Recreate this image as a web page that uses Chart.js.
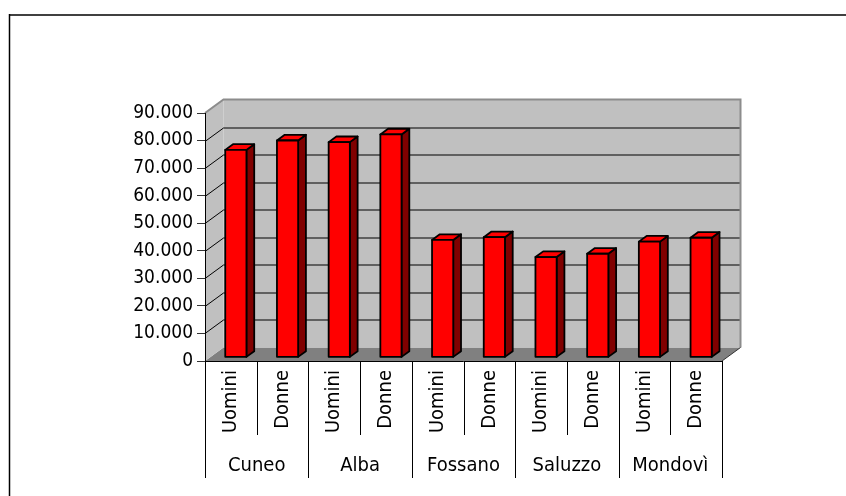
<!DOCTYPE html>
<html>
<head>
<meta charset="utf-8">
<script src="https://cdn.jsdelivr.net/npm/chart.js@4"></script>
<style>
  html, body { margin: 0; background: #fff; }
</style>
</head>
<body>
<canvas id="chart" width="846" height="496"></canvas>
<script>
const cities = ['Cuneo', 'Alba', 'Fossano', 'Saluzzo', 'Mondovì'];
const sexes = ['Uomini', 'Donne'];
const uomini = [75300, 78100, 42600, 36400, 42000];
const donne = [78700, 80900, 43600, 37600, 43400];
const yMax = 90000;
const yStep = 10000;

// one bar per (city, sex), in city order
const labels = cities.flatMap(() => sexes);
const values = cities.flatMap((c, i) => [uomini[i], donne[i]]);

const family = "'DejaVu Sans Condensed', 'Liberation Sans', sans-serif";
const fmt = v => String(v).replace(/\B(?=(\d{3})+(?!\d))/g, '.');

// depth of the box and where bars sit inside it
const DX = 18.5, DY = 13.5;
const F1 = 0.27, F2 = 0.69;

const poly = (ctx, pts) => {
  ctx.beginPath();
  pts.forEach(([px, py], i) => i ? ctx.lineTo(px, py) : ctx.moveTo(px, py));
  ctx.closePath();
};

const box3d = {
  id: 'box3d',
  beforeDraw(chart) {
    const { ctx, width, height } = chart;
    ctx.save();
    ctx.strokeStyle = '#404040';
    ctx.lineWidth = 2;
    ctx.beginPath(); ctx.moveTo(9, 15); ctx.lineTo(width, 15); ctx.stroke();
    ctx.strokeStyle = '#000';
    ctx.lineWidth = 1.5;
    ctx.beginPath(); ctx.moveTo(9.5, 14); ctx.lineTo(9.5, height); ctx.stroke();
    ctx.restore();
  },
  beforeDatasetsDraw(chart) {
    const { ctx, chartArea: a, scales: { x, x2, y } } = chart;
    const L = a.left, R = a.right, T = a.top, B = a.bottom;
    ctx.save();
    // floor
    ctx.fillStyle = '#808080';
    poly(ctx, [[L, B], [R, B], [R + DX, B - DY], [L + DX, B - DY]]);
    ctx.fill();
    // back and side walls
    ctx.fillStyle = '#c0c0c0';
    ctx.fillRect(L + DX, T - DY, R - L, B - T);
    poly(ctx, [[L, T], [L + DX, T - DY], [L + DX, B - DY], [L, B]]);
    ctx.fill();
    // gridlines across the walls
    ctx.strokeStyle = '#000';
    ctx.lineWidth = 1;
    y.ticks.forEach(t => {
      if (t.value === 0 || t.value === y.max) return;
      const py = Math.round(y.getPixelForValue(t.value)) + 0.5;
      ctx.beginPath();
      ctx.moveTo(L, py);
      ctx.lineTo(L + DX, py - DY);
      ctx.lineTo(R + DX, py - DY);
      ctx.stroke();
    });
    // outer edges of the walls
    ctx.strokeStyle = '#8c8c8c';
    ctx.lineWidth = 2;
    ctx.beginPath();
    ctx.moveTo(L, T);
    ctx.lineTo(L + DX, T - DY);
    ctx.lineTo(R + DX, T - DY);
    ctx.lineTo(R + DX, B - DY);
    ctx.stroke();
    ctx.strokeStyle = '#333';
    ctx.lineWidth = 1;
    ctx.beginPath();
    ctx.moveTo(R + DX, B - DY);
    ctx.lineTo(R, B);
    ctx.stroke();
    // front axis lines
    ctx.strokeStyle = '#000';
    ctx.beginPath();
    ctx.moveTo(L + 0.5, T);
    ctx.lineTo(L + 0.5, B + 0.5);
    ctx.lineTo(R, B + 0.5);
    ctx.stroke();
    // separators between the category labels
    const half = (x.getPixelForValue(1) - x.getPixelForValue(0)) / 2;
    for (let i = 0; i <= labels.length; i++) {
      const px = Math.round(x.getPixelForValue(0) - half + i * 2 * half) + 0.5;
      ctx.beginPath();
      ctx.moveTo(px, B);
      ctx.lineTo(px, i % 2 ? x.bottom : x2.bottom);
      ctx.stroke();
    }
    ctx.restore();
  },
  afterDatasetsDraw(chart) {
    const ctx = chart.ctx;
    const ddx = (F2 - F1) * DX, ddy = (F2 - F1) * DY;
    ctx.save();
    ctx.strokeStyle = '#000';
    ctx.lineWidth = 1.8;
    ctx.lineJoin = 'round';
    chart.getDatasetMeta(0).data.forEach(bar => {
      const { x: cx, y: top, base, width } = bar.getProps(['x', 'y', 'base', 'width'], true);
      const x0 = cx - width / 2 + F1 * DX, x1 = cx + width / 2 + F1 * DX;
      const y0 = top - F1 * DY, yb = base - F1 * DY;
      ctx.fillStyle = '#800000';
      poly(ctx, [[x1, y0], [x1 + ddx, y0 - ddy], [x1 + ddx, yb - ddy], [x1, yb]]);
      ctx.fill(); ctx.stroke();
      ctx.fillStyle = '#ff0000';
      poly(ctx, [[x0, y0], [x1, y0], [x1 + ddx, y0 - ddy], [x0 + ddx, y0 - ddy]]);
      ctx.fill(); ctx.stroke();
      poly(ctx, [[x0, y0], [x1, y0], [x1, yb], [x0, yb]]);
      ctx.fill(); ctx.stroke();
    });
    ctx.restore();
  }
};

new Chart(document.getElementById('chart'), {
  type: 'bar',
  data: {
    labels: labels,
    datasets: [{
      data: values,
      backgroundColor: 'rgba(0,0,0,0)',
      borderWidth: 0,
      barPercentage: 0.41,
      categoryPercentage: 1
    }]
  },
  options: {
    responsive: false,
    animation: false,
    devicePixelRatio: 1,
    layout: { padding: { left: 0, top: 113, right: 124, bottom: 18 } },
    plugins: { legend: { display: false }, tooltip: { enabled: false } },
    scales: {
      y: {
        min: 0,
        max: yMax,
        afterFit: s => { s.width = 205; },
        border: { display: false },
        grid: { drawOnChartArea: false, tickLength: 8, color: '#333' },
        ticks: { stepSize: yStep, padding: 4, color: '#000', font: { family, size: 19 }, callback: v => fmt(v) }
      },
      x: {
        weight: 0,
        afterFit: s => { s.height = 74; },
        border: { display: false },
        grid: { display: false, drawTicks: false },
        ticks: { autoSkip: false, minRotation: 90, maxRotation: 90, padding: 9, color: '#000', font: { family, size: 20 } }
      },
      x2: {
        type: 'category',
        labels: cities,
        position: 'bottom',
        weight: 1,
        offset: true,
        afterFit: s => { s.height = 43; },
        border: { display: false },
        grid: { display: false, drawTicks: false },
        ticks: { padding: 19, color: '#000', font: { family, size: 20 } }
      }
    }
  },
  plugins: [box3d]
});
</script>
</body>
</html>
